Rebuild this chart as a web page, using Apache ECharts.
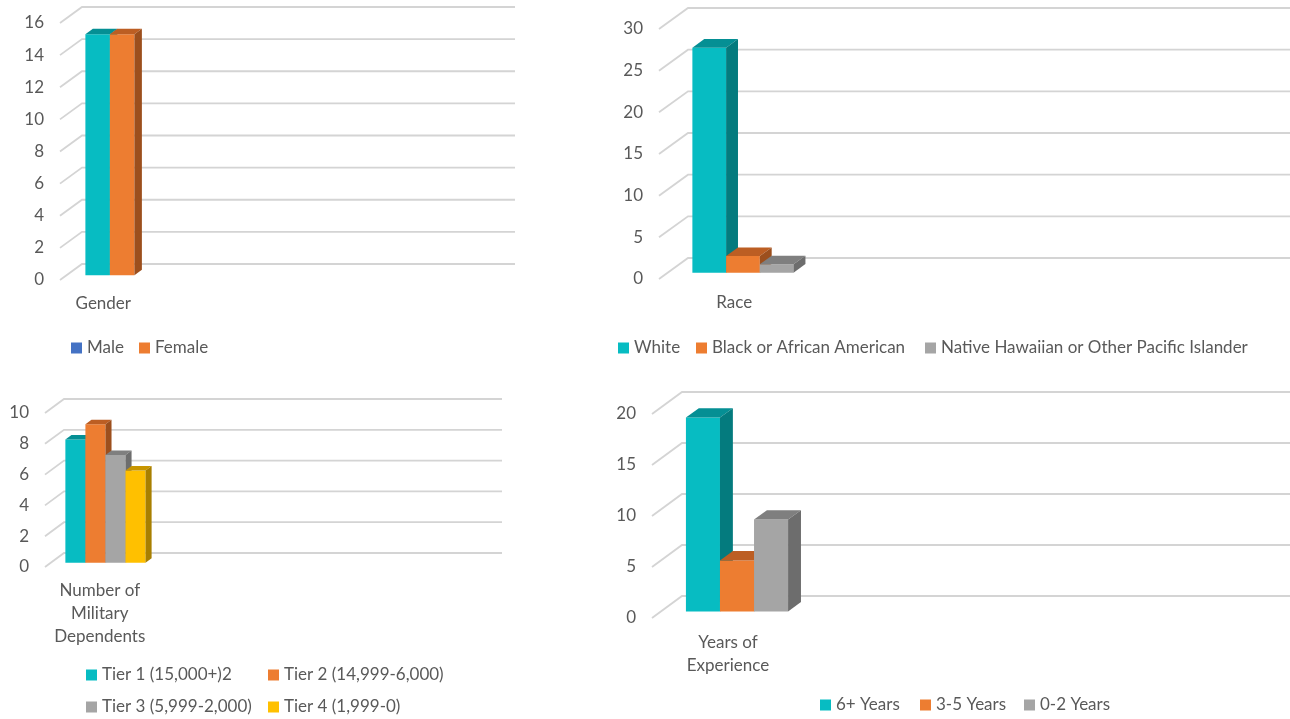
<!DOCTYPE html>
<html>
<head>
<meta charset="utf-8">
<title>Survey demographics</title>
<script src="https://cdn.jsdelivr.net/npm/echarts@6/dist/echarts.min.js"></script>
<style>
  html, body { margin: 0; padding: 0; background: #ffffff; }
  #chart { width: 1290px; height: 719px; }
</style>
</head>
<body>
<div id="chart"></div>
<script>
// ---- Data ----
const genderCategories = ['Gender', '', '', '', ''];
const genderTicks = [0, 2, 4, 6, 8, 10, 12, 14, 16];
const maleValues = [15];
const femaleValues = [15];

const raceCategories = ['Race', '', '', ''];
const raceTicks = [0, 5, 10, 15, 20, 25, 30];
const whiteValues = [27];
const blackValues = [2];
const hawaiianValues = [1];

const dependentsCategories = ['Number of\nMilitary\nDependents', '', '', ''];
const dependentsTicks = [0, 2, 4, 6, 8, 10];
const tier1Values = [8];
const tier2Values = [9];
const tier3Values = [7];
const tier4Values = [6];

const experienceCategories = ['Years of\nExperience', '', '', ''];
const experienceTicks = [0, 5, 10, 15, 20];
const sixPlusValues = [19];
const threeToFiveValues = [5];
const zeroToTwoValues = [9];

// ---- Styling ----
const FONT = 'Lato, "Open Sans", sans-serif';
const FONT_SIZE = 17;
const TEXT = '#595959';
const GRID_LINE = '#D4D4D4';

const FACES = {
  teal:   { front: '#07BCC2', top: '#058F94', side: '#047B7E' },
  orange: { front: '#ED7D31', top: '#BC5E23', side: '#9C4F1D' },
  gray:   { front: '#A5A5A5', top: '#7F7F7F', side: '#6D6D6D' },
  yellow: { front: '#FFC000', top: '#C79500', side: '#A87F00' }
};
const BLUE = '#4472C4';

// Panel geometry: front plane rectangle, depth offset of the back wall (wx, wy),
// where the bars start in depth, how deep they are, and bar width as a share of a band.
const panels = [
  { grid: { left: 60,  top: 23,  width: 433, height: 257 }, wx: 22, wy: 16, depth: 0.3, barDepth: 0.34, barFrac: 0.283, labelMargin: 12,
    categories: genderCategories, ticks: genderTicks },
  { grid: { left: 659, top: 29,  width: 602, height: 250 }, wx: 29, wy: 21, depth: 0.3, barDepth: 0.41, barFrac: 0.224, labelMargin: 12,
    categories: raceCategories, ticks: raceTicks },
  { grid: { left: 45,  top: 413, width: 438, height: 154 }, wx: 19, wy: 14, depth: 0.3, barDepth: 0.32, barFrac: 0.183, labelMargin: 12,
    categories: dependentsCategories, ticks: dependentsTicks },
  { grid: { left: 652, top: 414, width: 608, height: 204 }, wx: 30, wy: 22, depth: 0.3, barDepth: 0.43, barFrac: 0.224, labelMargin: 13,
    categories: experienceCategories, ticks: experienceTicks }
];

// Series per panel: name, values, face colours, legend swatch colour, legend position (left, centre y)
const seriesDefs = [
  [
    { name: 'Male',   values: maleValues,   faces: FACES.teal,   legend: BLUE,              pos: [71, 348] },
    { name: 'Female', values: femaleValues, faces: FACES.orange, legend: FACES.orange.front, pos: [139, 348] }
  ],
  [
    { name: 'White', values: whiteValues, faces: FACES.teal, legend: FACES.teal.front, pos: [618, 348] },
    { name: 'Black or African American', values: blackValues, faces: FACES.orange, legend: FACES.orange.front, pos: [696, 348] },
    { name: 'Native Hawaiian or Other Pacific Islander', values: hawaiianValues, faces: FACES.gray, legend: FACES.gray.front, pos: [925, 348] }
  ],
  [
    { name: 'Tier 1 (15,000+)2',   values: tier1Values, faces: FACES.teal,   legend: FACES.teal.front,   pos: [86, 675] },
    { name: 'Tier 2 (14,999-6,000)', values: tier2Values, faces: FACES.orange, legend: FACES.orange.front, pos: [268, 675] },
    { name: 'Tier 3 (5,999-2,000)', values: tier3Values, faces: FACES.gray,   legend: FACES.gray.front,   pos: [86, 707] },
    { name: 'Tier 4 (1,999-0)',     values: tier4Values, faces: FACES.yellow, legend: FACES.yellow.front, pos: [268, 707] }
  ],
  [
    { name: '6+ Years',  values: sixPlusValues,     faces: FACES.teal,   legend: FACES.teal.front,   pos: [820, 705] },
    { name: '3-5 Years', values: threeToFiveValues, faces: FACES.orange, legend: FACES.orange.front, pos: [920, 705] },
    { name: '0-2 Years', values: zeroToTwoValues,   faces: FACES.gray,   legend: FACES.gray.front,   pos: [1024, 705] }
  ]
];

// Back-wall gridlines: a diagonal on the left wall, then a horizontal line on the back wall.
function gridLineSeries(gi, panel) {
  return {
    type: 'custom',
    xAxisIndex: gi, yAxisIndex: gi,
    silent: true, clip: false, z: 1,
    data: panel.ticks.map(t => [0, t]),
    encode: { x: 0, y: 1 },
    renderItem(params, api) {
      const cs = params.coordSys;
      const y = api.coord([0, api.value(1)])[1];
      const x0 = cs.x, x1 = cs.x + cs.width;
      return {
        type: 'polyline',
        shape: { points: [[x0, y], [x0 + panel.wx, y - panel.wy], [x1 + panel.wx, y - panel.wy]] },
        style: { stroke: GRID_LINE, lineWidth: 1.8, fill: null }
      };
    }
  };
}

// A 3-D column: front face, top face and right side face.
function barSeries(gi, panel, def, k, n) {
  return {
    type: 'custom',
    name: def.name,
    xAxisIndex: gi, yAxisIndex: gi,
    clip: false, z: 2,
    itemStyle: { color: def.legend },
    data: def.values.map((v, i) => [i, v]),
    encode: { x: 0, y: 1 },
    renderItem(params, api) {
      const cat = api.value(0), v = api.value(1);
      const band = api.size([1, 0])[0];
      const base = api.coord([cat, 0]);
      const top = api.coord([cat, v]);
      const w = band * panel.barFrac;
      const fx = panel.depth * panel.wx, fy = panel.depth * panel.wy;
      const dx = panel.barDepth * panel.wx, dy = panel.barDepth * panel.wy;
      const x0 = base[0] - (w * n) / 2 + k * w + fx;
      const x1 = x0 + w;
      const yb = base[1] - fy, yt = top[1] - fy;
      const f = def.faces;
      return {
        type: 'group',
        children: [
          { type: 'polygon', shape: { points: [[x0, yb], [x0, yt], [x1, yt], [x1, yb]] }, style: { fill: f.front } },
          { type: 'polygon', shape: { points: [[x0, yt], [x0 + dx, yt - dy], [x1 + dx, yt - dy], [x1, yt]] }, style: { fill: f.top } },
          { type: 'polygon', shape: { points: [[x1, yt], [x1 + dx, yt - dy], [x1 + dx, yb - dy], [x1, yb]] }, style: { fill: f.side } }
        ]
      };
    }
  };
}

const grids = [], xAxes = [], yAxes = [], series = [], legends = [];

panels.forEach((p, gi) => {
  grids.push(Object.assign({ containLabel: false }, p.grid));
  xAxes.push({
    type: 'category', gridIndex: gi, data: p.categories,
    axisLine: { show: false }, axisTick: { show: false }, splitLine: { show: false },
    axisLabel: { interval: 0, color: TEXT, fontFamily: FONT, fontSize: FONT_SIZE, lineHeight: 23, margin: p.labelMargin }
  });
  yAxes.push({
    type: 'value', gridIndex: gi,
    min: p.ticks[0], max: p.ticks[p.ticks.length - 1], interval: p.ticks[1] - p.ticks[0],
    axisLine: { show: false }, axisTick: { show: false }, splitLine: { show: false },
    axisLabel: { color: TEXT, fontFamily: FONT, fontSize: FONT_SIZE, margin: 16 }
  });
  series.push(gridLineSeries(gi, p));
  const defs = seriesDefs[gi];
  defs.forEach((d, k) => {
    series.push(barSeries(gi, p, d, k, defs.length));
    legends.push({
      data: [d.name], left: d.pos[0], top: d.pos[1] - 10,
      icon: 'rect', itemWidth: 11, itemHeight: 11, padding: 0, selectedMode: false,
      textStyle: { color: TEXT, fontFamily: FONT, fontSize: FONT_SIZE, lineHeight: 20 }
    });
  });
});

const chart = echarts.init(document.getElementById('chart'), null, { renderer: 'canvas' });
chart.setOption({
  backgroundColor: '#ffffff',
  animation: false,
  grid: grids,
  xAxis: xAxes,
  yAxis: yAxes,
  legend: legends,
  series: series
});
</script>
</body>
</html>
